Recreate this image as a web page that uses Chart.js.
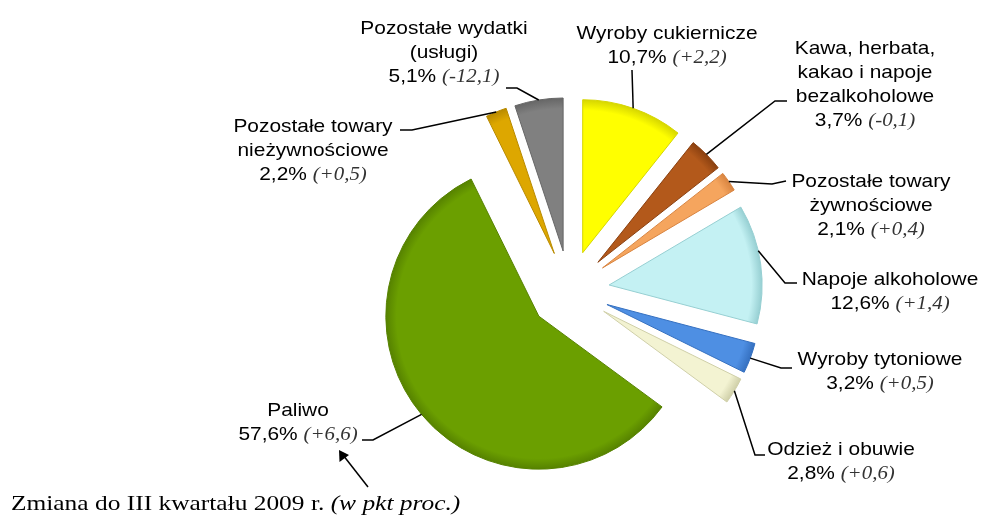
<!DOCTYPE html>
<html>
<head>
<meta charset="utf-8">
<script src="https://cdn.jsdelivr.net/npm/chart.js@4.4.1/dist/chart.umd.min.js"></script>
<style>
  html, body { margin: 0; padding: 0; background: #fff; }
  #wrap { width: 982px; height: 516px; position: relative; }
</style>
</head>
<body>
<div id="wrap"><canvas id="pieChart"></canvas></div>
<script>
// shares of spending (%) and change vs III quarter 2009 (pp)
const categories = ['Wyroby cukiernicze', 'Kawa, herbata, kakao i napoje bezalkoholowe', 'Pozostałe towary żywnościowe',
  'Napoje alkoholowe', 'Wyroby tytoniowe', 'Odzież i obuwie', 'Paliwo', 'Pozostałe towary nieżywnościowe', 'Pozostałe wydatki (usługi)'];
const shares = [10.7, 3.7, 2.1, 12.6, 3.2, 2.8, 57.6, 2.2, 5.1];
const changes = ['+2,2', '-0,1', '+0,4', '+1,4', '+0,5', '+0,6', '+6,6', '+0,5', '-12,1'];
const labelLines = [
  ['Wyroby cukiernicze'],
  ['Kawa, herbata,', 'kakao i napoje', 'bezalkoholowe'],
  ['Pozostałe towary', 'żywnościowe'],
  ['Napoje alkoholowe'],
  ['Wyroby tytoniowe'],
  ['Odzież i obuwie'],
  ['Paliwo'],
  ['Pozostałe towary', 'nieżywnościowe'],
  ['Pozostałe wydatki', '(usługi)']
];
const noteText = 'Zmiana do III kwartału 2009 r. ';
const noteItalic = '(w pkt proc.)';

// styling / layout
const colors = ['#FFFF00', '#B3591B', '#F5A55E', '#C4F1F3', '#4E8FE3', '#F3F3D2', '#6B9F00', '#DDA700', '#808080'];
const borders = ['#D6D600', '#8A4010', '#D88440', '#96CFD2', '#3570C0', '#CFCFA8', '#568200', '#B88A00', '#666666'];
const EXPLODE = 40;
const LINE_H = 24;
const SX = 1.10; // text in the original is a bit wider
// [center x, baseline of first line]
const labelPos = [[667, 39], [865, 54], [871, 187], [890, 285], [880, 365], [841, 455], [298, 416], [313, 132], [444, 34]];
// leader line points after the start on the slice edge
const leaders = [
  [[632, 70]],
  [[775, 101], [787, 101]],
  [[772, 184], [786, 181]],
  [[785, 283], [797, 283]],
  [[781, 368], [792, 368]],
  [[755, 455], [765, 455]],
  [[373, 440], [362, 440]],
  [[412, 130], [400, 130]],
  [[517, 88], [506, 88]]
];
const anchorShift = [0, 0, 0, -5, 0, 0, 0, 0, 0]; // degrees

const fontReg = "19px 'Liberation Sans', Arial, sans-serif";
const fontIt = "italic 19px 'Liberation Serif', 'Times New Roman', serif";

function fmt(v) { return v.toFixed(1).replace('.', ',') + '%'; }

function drawParts(ctx, parts, cx, y, sx, align) {
  let w = 0;
  parts.forEach(p => { ctx.font = p.font; p.w = ctx.measureText(p.text).width; w += p.w; });
  ctx.save();
  ctx.translate(cx, y);
  ctx.scale(sx, 1);
  let x = align === 'left' ? 0 : -w / 2;
  parts.forEach(p => {
    ctx.font = p.font;
    ctx.fillStyle = p.color;
    ctx.fillText(p.text, x, 0);
    x += p.w;
  });
  ctx.restore();
}

// move every slice out along its middle angle, and give it a rim shade
const explodePlugin = {
  id: 'explode',
  beforeDatasetsDraw(chart) {
    const a = chart.chartArea;
    const cx = (a.left + a.right) / 2, cy = (a.top + a.bottom) / 2;
    const ctx = chart.ctx;
    chart.getDatasetMeta(0).data.forEach((arc, i) => {
      const mid = (arc.startAngle + arc.endAngle) / 2;
      arc.x = cx + Math.cos(mid) * EXPLODE;
      arc.y = cy + Math.sin(mid) * EXPLODE;
      const g = ctx.createRadialGradient(arc.x, arc.y, 0, arc.x, arc.y, arc.outerRadius);
      g.addColorStop(0, colors[i]);
      g.addColorStop(0.93, colors[i]);
      g.addColorStop(1, borders[i]);
      arc.options = Object.assign({}, arc.options, { backgroundColor: g });
    });
  }
};

const labelPlugin = {
  id: 'pieLabels',
  afterDatasetsDraw(chart) {
    const ctx = chart.ctx;
    const arcs = chart.getDatasetMeta(0).data;
    ctx.save();
    ctx.textBaseline = 'alphabetic';
    arcs.forEach((arc, i) => {
      const ang = (arc.startAngle + arc.endAngle) / 2 + anchorShift[i] * Math.PI / 180;
      const sx0 = arc.x + Math.cos(ang) * arc.outerRadius;
      const sy0 = arc.y + Math.sin(ang) * arc.outerRadius;
      ctx.beginPath();
      ctx.moveTo(sx0, sy0);
      leaders[i].forEach(p => ctx.lineTo(p[0], p[1]));
      ctx.strokeStyle = '#000';
      ctx.lineWidth = 1.5;
      ctx.stroke();

      const [cx, y0] = labelPos[i];
      labelLines[i].forEach((t, k) => {
        drawParts(ctx, [{ text: t, font: fontReg, color: '#000' }], cx, y0 + k * LINE_H, SX);
      });
      drawParts(ctx, [
        { text: fmt(shares[i]) + ' ', font: fontReg, color: '#000' },
        { text: '(' + changes[i] + ')', font: fontIt, color: '#333' }
      ], cx, y0 + labelLines[i].length * LINE_H, SX);
    });

    // note with arrow
    drawParts(ctx, [
      { text: noteText, font: "21px 'Liberation Serif', 'Times New Roman', serif", color: '#000' },
      { text: noteItalic, font: "italic 21px 'Liberation Serif', 'Times New Roman', serif", color: '#000' }
    ], 11, 510, 1.21, 'left');
    ctx.beginPath();
    ctx.moveTo(368, 487);
    ctx.lineTo(343, 455);
    ctx.strokeStyle = '#000';
    ctx.lineWidth = 1.5;
    ctx.stroke();
    ctx.beginPath();
    ctx.moveTo(339, 450);
    ctx.lineTo(339.5, 462);
    ctx.lineTo(349, 455);
    ctx.closePath();
    ctx.fillStyle = '#000';
    ctx.fill();
    ctx.restore();
  }
};

new Chart(document.getElementById('pieChart'), {
  type: 'pie',
  data: {
    labels: categories,
    datasets: [{
      data: shares,
      backgroundColor: colors,
      borderColor: borders,
      borderWidth: 1
    }]
  },
  options: {
    responsive: true,
    maintainAspectRatio: false,
    animation: false,
    layout: { padding: { top: 137, bottom: 72, left: 416, right: 259 } },
    plugins: {
      legend: { display: false },
      tooltip: { enabled: false }
    }
  },
  plugins: [explodePlugin, labelPlugin]
});
</script>
</body>
</html>
